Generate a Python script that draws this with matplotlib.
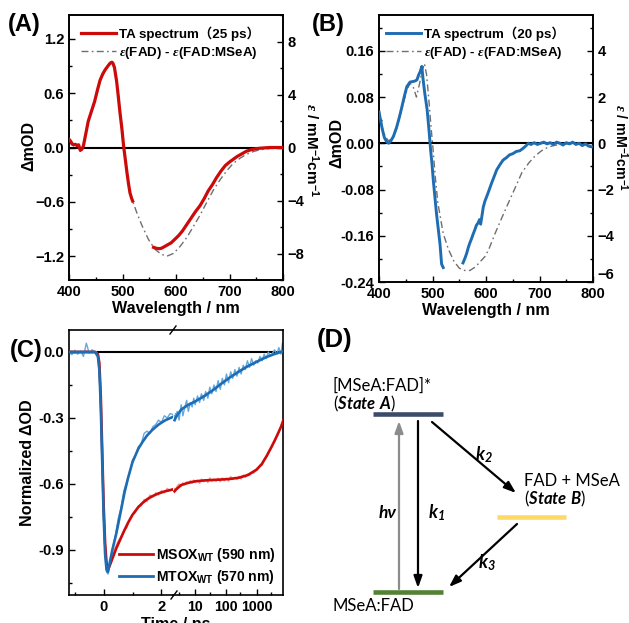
import numpy as np
import matplotlib
matplotlib.use("Agg")
import matplotlib.pyplot as plt
from matplotlib.ticker import MultipleLocator, FixedLocator, NullFormatter, FixedFormatter
from matplotlib.lines import Line2D

# ---------------- data ----------------
# Panel A  (TA spectrum 25 ps, left axis; epsilon difference, right axis)
A_wl_ta1 = [400, 403, 406, 409, 412, 415, 418, 421, 424, 427, 431, 436, 442, 448, 453, 458, 463, 468, 473, 477,
            480, 482, 485, 489, 492, 495, 499, 502, 505, 508, 511, 514, 517, 519]
A_ta1 = [0.09, 0.07, 0.04, 0.03, 0.035, 0.02, 0.03, -0.03, -0.02, 0.02, 0.14, 0.29, 0.40, 0.51, 0.63, 0.74, 0.81, 0.86, 0.90, 0.93,
         0.94, 0.93, 0.88, 0.73, 0.57, 0.40, 0.20, 0.02, -0.12, -0.26, -0.39, -0.50, -0.56, -0.59]
A_wl_ta2 = [558, 563, 568, 573, 579, 585, 591, 598, 605, 612, 620, 628, 636, 645, 653, 660, 668, 676, 684, 692,
            700, 707, 714, 720, 726, 732, 740, 748, 757, 766, 775, 785, 795, 800]
A_ta2 = [-1.10, -1.11, -1.115, -1.11, -1.09, -1.07, -1.05, -1.01, -0.97, -0.92, -0.85, -0.78, -0.71, -0.64, -0.56, -0.48, -0.41, -0.33, -0.26, -0.20,
         -0.16, -0.13, -0.10, -0.08, -0.06, -0.04, -0.025, -0.015, -0.008, -0.004, 0.0, 0.0, 0.0, 0.0]
A_wl_eps = [400, 405, 410, 416, 421, 426, 431, 436, 442, 449, 458, 468, 477, 481, 485, 489, 495, 502, 508, 514,
            519, 527, 536, 548, 560, 572, 583, 595, 607, 620, 632, 645, 658, 670, 683, 695, 707, 720, 732, 745,
            757, 770, 785, 800]
A_eps = [0.45, 0.2, 0.1, 0.05, -0.3, -0.05, 1.0, 1.95, 2.75, 3.5, 5.0, 5.85, 6.35, 6.45, 6.1, 4.95, 2.7, 0.05, -1.8, -3.45,
         -4.05, -4.95, -5.85, -6.9, -7.65, -8.05, -8.2, -8.0, -7.5, -6.8, -6.0, -5.1, -4.1, -3.2, -2.4, -1.75, -1.2, -0.8, -0.5, -0.3,
         -0.17, -0.1, -0.04, 0.0]

# Panel B  (TA spectrum 20 ps)
B_wl_ta1 = [400, 403, 406, 410, 414, 418, 422, 427, 433, 438, 442, 447, 452, 458, 464, 468, 471, 474, 477, 480,
            482.5, 485.5, 490, 494, 496.5, 499, 501.5, 504.5, 507.5, 511, 514, 517, 520]
B_ta1 = [0.054, 0.04, 0.025, 0.01, 0.003, 0.0, 0.004, 0.012, 0.028, 0.045, 0.06, 0.08, 0.098, 0.106, 0.107, 0.108, 0.11, 0.118, 0.124, 0.133,
         0.11, 0.087, 0.058, 0.017, -0.012, -0.035, -0.064, -0.093, -0.122, -0.15, -0.174, -0.209, -0.215]
B_wl_ta2 = [557, 561, 564, 567, 570, 573, 576, 579, 582, 585, 588, 590, 592, 595, 598, 601, 605, 610, 615, 620,
            626, 632, 638, 644, 650, 657, 663, 669, 675, 679, 684, 690, 696, 702, 708, 714, 720, 726, 732, 738,
            744, 750, 756, 762, 768, 774, 780, 786, 792, 797]
B_ta2 = [-0.207, -0.198, -0.19, -0.18, -0.172, -0.165, -0.157, -0.15, -0.142, -0.138, -0.132, -0.14, -0.128, -0.11, -0.1, -0.093, -0.083, -0.07, -0.058, -0.046,
         -0.037, -0.029, -0.025, -0.02, -0.018, -0.014, -0.013, -0.009, -0.004, 0.0, -0.002, 0.001, -0.002, 0.0, 0.002, -0.001, 0.001, -0.002, 0.002, 0.0,
         -0.003, 0.001, -0.001, 0.002, -0.002, 0.0, -0.004, -0.001, -0.005, -0.006]
B_wl_eps = [400, 405, 411, 417, 424, 433, 442, 452, 458, 464, 470, 476, 480, 485, 489, 493, 497, 501, 505, 510,
            520, 530, 540, 550, 560, 570, 580, 590, 598, 605, 617, 630, 642, 655, 667, 680, 692, 704, 716, 728,
            741, 760, 780, 800]
B_eps = [1.5, 0.77, 0.33, 0.12, 0.16, 0.63, 1.43, 2.3, 2.6, 2.44, 2.0, 2.6, 3.1, 3.45, 2.95, 1.93, 0.77, -0.25, -1.41, -2.58,
         -3.9, -4.6, -5.1, -5.4, -5.5, -5.5, -5.35, -5.1, -4.9, -4.6, -3.9, -3.2, -2.57, -1.9, -1.27, -0.85, -0.54, -0.32, -0.17, -0.09,
         -0.04, -0.01, 0.0, 0.0]

# Panel C  (kinetics; time in ps)
C_t_fit = [-1.2, -0.6, -0.3, -0.2, -0.15, -0.1, -0.05, 0.0, 0.05, 0.1,
           0.15, 0.2, 0.3, 0.43, 0.6, 0.72, 0.85, 1.0, 1.2, 1.34,
           1.5, 1.68, 1.9, 2.14, 2.4, 3.5, 6, 10, 20, 37,
           70, 138, 260, 515, 1000, 1480, 2200, 3260, 4500, 6300, 7500]
C_red_fit = [0, 0, 0, -0.01, -0.05, -0.2, -0.45, -0.7, -0.87, -0.96,
             -0.99, -0.975, -0.94, -0.895, -0.845, -0.81, -0.775, -0.74, -0.705, -0.687,
             -0.67, -0.656, -0.643, -0.633, -0.625, -0.605, -0.595, -0.588, -0.584, -0.582,
             -0.58, -0.577, -0.572, -0.56, -0.535, -0.51, -0.47, -0.425, -0.385, -0.34, -0.31]
C_blue_fit = [0, 0, 0, -0.02, -0.08, -0.25, -0.5, -0.75, -0.92, -0.99,
              -1.0, -0.965, -0.9, -0.83, -0.72, -0.64, -0.57, -0.5, -0.44, -0.41,
              -0.38, -0.355, -0.33, -0.31, -0.295, -0.262, -0.24, -0.225, -0.2, -0.175,
              -0.145, -0.115, -0.09, -0.065, -0.045, -0.033, -0.022, -0.013, -0.006, 0.0, 0.003]
C_t_raw = [-1.2, -1.1, -1.0, -0.9, -0.8, -0.7, -0.6, -0.5, -0.4, -0.3,
           -0.25, -0.2, -0.15, -0.1, -0.05, 0.0, 0.05, 0.1, 0.15, 0.2,
           0.3, 0.4, 0.5, 0.6, 0.7, 0.8, 0.9, 1.0, 1.1, 1.2,
           1.3, 1.4, 1.5, 1.6, 1.7, 1.8, 1.9, 2.0, 2.1, 2.2, 2.3, 2.4,
           2.6, 3.0, 3.5, 4.0, 4.6, 5.3, 6.0, 7.0, 8.0, 9.0,
           10, 12, 14, 16, 19, 22, 26, 30, 35, 41,
           48, 56, 66, 77, 90, 105, 123, 144, 168, 197,
           230, 270, 315, 370, 430, 505, 590, 690, 810, 950,
           1100, 1300, 1520, 1780, 2080, 2430, 2850, 3330, 3900, 4560,
           5340, 6250, 7000]
C_blue_raw = [0.0, -0.012, 0.008, -0.01, 0.005, -0.02, 0.04, -0.005, 0.01, 0.0,
              0.0, -0.03, -0.1, -0.27, -0.52, -0.77, -0.93, -1.0, -1.01, -0.97,
              -0.9, -0.84, -0.76, -0.71, -0.63, -0.59, -0.55, -0.49, -0.47, -0.43,
              -0.42, -0.37, -0.36, -0.37, -0.34, -0.33, -0.31, -0.32, -0.29, -0.3, -0.28, -0.285,
              -0.27, -0.31, -0.24, -0.29, -0.25, -0.22, -0.27, -0.23, -0.25, -0.21,
              -0.24, -0.2, -0.23, -0.19, -0.22, -0.18, -0.21, -0.16, -0.19, -0.15,
              -0.18, -0.13, -0.17, -0.12, -0.15, -0.1, -0.14, -0.09, -0.12, -0.08,
              -0.11, -0.07, -0.1, -0.06, -0.08, -0.04, -0.07, -0.03, -0.06, -0.04,
              -0.05, -0.02, -0.04, -0.01, -0.03, 0.0, -0.02, -0.005, 0.01, -0.01,
              0.02, -0.01, 0.04]
C_red_raw = [0.0, 0.005, -0.005, 0.003, 0.0, -0.004, 0.006, 0.0, -0.003, 0.0,
             0.0, -0.01, -0.06, -0.2, -0.46, -0.7, -0.86, -0.95, -0.98, -0.97,
             -0.93, -0.89, -0.86, -0.84, -0.81, -0.8, -0.76, -0.74, -0.73, -0.7,
             -0.7, -0.67, -0.68, -0.65, -0.66, -0.64, -0.65, -0.63, -0.64, -0.62, -0.63, -0.62,
             -0.61, -0.6, -0.612, -0.595, -0.603, -0.59, -0.598, -0.585, -0.597, -0.582,
             -0.594, -0.584, -0.598, -0.578, -0.59, -0.58, -0.594, -0.572, -0.588, -0.578,
             -0.588, -0.574, -0.59, -0.572, -0.586, -0.574, -0.588, -0.566, -0.58, -0.57,
             -0.58, -0.565, -0.578, -0.56, -0.57, -0.555, -0.562, -0.548, -0.552, -0.54,
             -0.535, -0.515, -0.515, -0.49, -0.48, -0.455, -0.445, -0.42, -0.41, -0.38,
             -0.365, -0.335, -0.32]
C_xticks_lin = [0, 2]
C_xticks_log = [10, 100, 1000]
C_xticklabels_log = ["10", "100", "1000"]

# ---------------- style ----------------
W, H = 629, 623
plt.rcParams['font.family'] = ['Liberation Sans', 'Noto Sans CJK SC', 'DejaVu Sans']
plt.rcParams['font.weight'] = 'bold'
plt.rcParams['mathtext.fontset'] = 'custom'
plt.rcParams['mathtext.rm'] = 'Liberation Sans:bold'
plt.rcParams['mathtext.bf'] = 'Liberation Sans:bold'
plt.rcParams['mathtext.it'] = 'Liberation Serif:italic'
plt.rcParams['mathtext.sf'] = 'Lato:italic:bold'

RED = '#cc0a0a'
BLUE = '#1e6db3'
RED_L = '#f29a9a'
BLUE_L = '#62a8e0'
GRAY = '#6f6f6f'
DASH = (5, 2.4, 1.2, 2.4)
FS_TICK = 10.6
FS_LAB = 11.6
FS_LEG = 9.6
FS_PANEL = 17

fig = plt.figure(figsize=(W / 100, H / 100), dpi=100)


def rect(x0, y0, x1, y1):
    return [x0 / W, 1 - y1 / H, (x1 - x0) / W, (y1 - y0) / H]


def P(x, y):
    return (x / W, 1 - y / H)


def style(ax):
    ax.tick_params(direction='in', which='both', width=1.0, labelsize=FS_TICK, pad=3.5)
    ax.tick_params(which='major', length=4)
    ax.tick_params(which='minor', length=2.5)
    for s in ax.spines.values():
        s.set_linewidth(1.2)


# ---------------- Panel A ----------------
axA = fig.add_axes(rect(69, 15, 283, 280))
axA2 = axA.twinx()
axA.set_zorder(axA2.get_zorder() + 1)
axA.patch.set_visible(False)
axA.set_xlim(400, 800)
axA.set_ylim(-1.46, 1.46)
axA2.set_ylim(-10, 10)
axA.axhline(0, color='k', lw=1.5, zorder=1)
axA2.plot(A_wl_eps, A_eps, color=GRAY, lw=1.0, dashes=DASH)
axA.plot(A_wl_ta1, A_ta1, color=RED, lw=2.3, zorder=3)
axA.plot(A_wl_ta2, A_ta2, color=RED, lw=2.3, zorder=3)
axA.xaxis.set_major_locator(MultipleLocator(100))
axA.xaxis.set_minor_locator(MultipleLocator(50))
axA.yaxis.set_major_locator(MultipleLocator(0.6))
axA.yaxis.set_minor_locator(MultipleLocator(0.3))
axA2.yaxis.set_major_locator(MultipleLocator(4))
axA2.yaxis.set_minor_locator(MultipleLocator(2))
style(axA)
style(axA2)
axA.legend([Line2D([], [], color=RED, lw=2.3), Line2D([], [], color=GRAY, lw=1.0, dashes=DASH)],
           ['TA spectrum（25 ps）', r'$\varepsilon$(FAD) - $\varepsilon$(FAD:MSeA)'],
           loc='upper left', bbox_to_anchor=(0.054, 0.958), frameon=False, fontsize=FS_LEG,
           handlelength=2.65, handletextpad=0.2, labelspacing=0.3, borderpad=0, borderaxespad=0)

# ---------------- Panel B ----------------
axB = fig.add_axes(rect(379, 15, 593, 282))
axB2 = axB.twinx()
axB.set_zorder(axB2.get_zorder() + 1)
axB.patch.set_visible(False)
axB.set_xlim(400, 800)
axB.set_ylim(-0.24, 0.222)
axB2.set_ylim(-6, 5.55)
axB.axhline(0, color='k', lw=1.5, zorder=1)
axB2.plot(B_wl_eps, B_eps, color=GRAY, lw=1.0, dashes=DASH)
axB.plot(B_wl_ta1, B_ta1, color=BLUE, lw=2.1, zorder=3)
axB.plot(B_wl_ta2, B_ta2, color=BLUE, lw=2.1, zorder=3)
axB.xaxis.set_major_locator(MultipleLocator(100))
axB.xaxis.set_minor_locator(MultipleLocator(50))
axB.yaxis.set_major_locator(MultipleLocator(0.08))
axB.yaxis.set_minor_locator(MultipleLocator(0.04))
axB.yaxis.set_major_formatter(matplotlib.ticker.FormatStrFormatter('%.2f'))
axB2.yaxis.set_major_locator(FixedLocator([-6, -4, -2, 0, 2, 4]))
axB2.yaxis.set_minor_locator(MultipleLocator(1))
style(axB)
style(axB2)
# the bottom right-axis label sits slightly raised, clear of the "800" tick label
axB2.yaxis.get_major_ticks()[0].label2.set_verticalalignment('bottom')
axB.legend([Line2D([], [], color=BLUE, lw=2.1), Line2D([], [], color=GRAY, lw=1.0, dashes=DASH)],
           ['TA spectrum（20 ps）', r'$\varepsilon$(FAD) - $\varepsilon$(FAD:MSeA)'],
           loc='upper left', bbox_to_anchor=(0.033, 0.958), frameon=False, fontsize=FS_LEG,
           handlelength=2.65, handletextpad=0.2, labelspacing=0.3, borderpad=0, borderaxespad=0)

# ---------------- Panel C (broken time axis) ----------------
t_raw = np.array(C_t_raw)
t_fit = np.array(C_t_fit)
axCL = fig.add_axes(rect(69, 330, 173, 595))
axCR = fig.add_axes(rect(173, 330, 283, 595))
for ax in (axCL, axCR):
    ax.set_ylim(-1.105, 0.1)
    ax.axhline(0, color='k', lw=1.5, zorder=1)
axCL.set_xlim(-1.2, 2.4)
axCR.set_xscale('log')
axCR.set_xlim(1.9, 7300)
axCL.plot(t_raw, C_red_raw, color=RED_L, lw=1.0, zorder=2)
axCL.plot(t_raw, C_blue_raw, color=BLUE_L, lw=1.0, zorder=2)
axCL.plot(t_fit, C_red_fit, color=RED, lw=1.9, zorder=3)
axCL.plot(t_fit, C_blue_fit, color=BLUE, lw=1.9, zorder=3)
mr = t_raw > 2.0
mf = t_fit > 2.0
axCR.plot(t_raw[mr], np.array(C_red_raw)[mr], color=RED_L, lw=1.0, zorder=2)
axCR.plot(t_raw[mr], np.array(C_blue_raw)[mr], color=BLUE_L, lw=1.0, zorder=2)
axCR.plot(t_fit[mf], np.array(C_red_fit)[mf], color=RED, lw=1.9, zorder=3)
axCR.plot(t_fit[mf], np.array(C_blue_fit)[mf], color=BLUE, lw=1.9, zorder=3)
axCL.spines['right'].set_visible(False)
axCR.spines['left'].set_visible(False)
style(axCL)
style(axCR)
axCL.xaxis.set_major_locator(FixedLocator(C_xticks_lin))
axCL.xaxis.set_minor_locator(FixedLocator([-1, 1]))
axCL.yaxis.set_major_locator(MultipleLocator(0.3))
axCL.yaxis.set_minor_locator(MultipleLocator(0.15))
axCL.yaxis.set_major_formatter(matplotlib.ticker.FormatStrFormatter('%.1f'))
axCR.xaxis.set_major_locator(FixedLocator(C_xticks_log))
axCR.xaxis.set_major_formatter(FixedFormatter(C_xticklabels_log))
axCR.xaxis.set_minor_locator(FixedLocator([3, 30, 300, 3000]))
axCR.xaxis.set_minor_formatter(NullFormatter())
axCR.tick_params(left=False, labelleft=False, which='both')
axCR.tick_params(axis='x', which='major', labelsize=10.2)
fig.legend([Line2D([], [], color=RED, lw=2.0), Line2D([], [], color=BLUE, lw=2.0)],
           [r'MSOX$_{\mathrm{WT}}$ (590 nm)', r'MTOX$_{\mathrm{WT}}$ (570 nm)'],
           loc='upper left', bbox_to_anchor=P(119, 546), frameon=False, fontsize=10.1,
           handlelength=2.4, handletextpad=0.25, labelspacing=0.3, borderpad=0, borderaxespad=0)

# ---------------- labels ----------------
fig.text(*P(29, 146), 'ΔmOD', rotation=90, ha='center', va='center', fontsize=FS_LAB)
fig.text(*P(312, 150), r'$\varepsilon$ / mM$^{-1}$cm$^{-1}$', rotation=-90, ha='center', va='center', fontsize=11)
fig.text(*P(176, 308), 'Wavelength / nm', ha='center', va='center', fontsize=FS_LAB)
fig.text(*P(337, 143), 'ΔmOD', rotation=90, ha='center', va='center', fontsize=FS_LAB)
fig.text(*P(621, 148), r'$\varepsilon$ / mM$^{-1}$cm$^{-1}$', rotation=-90, ha='center', va='center', fontsize=10.2)
fig.text(*P(486, 310), 'Wavelength / nm', ha='center', va='center', fontsize=FS_LAB)
fig.text(*P(28, 463), 'Normalized ΔOD', rotation=90, ha='center', va='center', fontsize=FS_LAB)
fig.text(*P(176, 617), 'Time / ps', ha='center', va='top', fontsize=FS_LAB)

fig.text(*P(24, 24), '(A)', ha='center', va='center', fontsize=FS_PANEL)
fig.text(*P(328, 24), '(B)', ha='center', va='center', fontsize=FS_PANEL)
fig.text(*P(26, 350), '(C)', ha='center', va='center', fontsize=FS_PANEL)
fig.text(*P(335, 340), '(D)', ha='center', va='center', fontsize=18.5)

# ---------------- Panel D (scheme) + break marks ----------------
axD = fig.add_axes([0, 0, 1, 1])
axD.set_xlim(0, W)
axD.set_ylim(H, 0)
axD.axis('off')

for xb, yb in ((173, 330), (174, 595)):
    axD.plot([xb - 3, xb + 3], [yb + 4, yb - 4], color='k', lw=1.0)

DF = ['Lato', 'DejaVu Sans']
FS_D = 12
axD.text(333, 386, '[MSeA:FAD]*', fontsize=FS_D, fontweight='normal', family=DF, ha='left', va='center')
axD.text(333, 404, r'($\mathsf{State\ A}$)', fontsize=FS_D, fontweight='normal', family=DF, ha='left', va='center')
axD.text(524, 481, 'FAD + MSeA', fontsize=FS_D, fontweight='normal', family=DF, ha='left', va='center')
axD.text(524, 499, r'($\mathsf{State\ B}$)', fontsize=FS_D, fontweight='normal', family=DF, ha='left', va='center')
axD.text(333, 606, 'MSeA:FAD', fontsize=FS_D, fontweight='normal', family=DF, ha='left', va='center')

axD.plot([373, 443], [414, 414], color='#3d4b6b', lw=3.3, solid_capstyle='butt')
axD.plot([373, 443], [592, 592], color='#548235', lw=3.3, solid_capstyle='butt')
axD.plot([497, 566], [517, 517], color='#ffd966', lw=3.3, solid_capstyle='butt')

arrow_k = dict(arrowstyle='-|>,head_length=0.7,head_width=0.25', lw=1.6, color='k', shrinkA=0, shrinkB=0)
arrow_g = dict(arrowstyle='-|>,head_length=0.7,head_width=0.25', lw=1.6, color='#8c8c8c', shrinkA=0, shrinkB=0)
axD.annotate('', xy=(399, 421), xytext=(399, 589), arrowprops=arrow_g)
axD.annotate('', xy=(418, 588), xytext=(418, 421), arrowprops=arrow_k)
axD.annotate('', xy=(516, 493), xytext=(432, 422), arrowprops=arrow_k)
axD.annotate('', xy=(449, 587), xytext=(517, 524), arrowprops=arrow_k)

axD.text(388, 513, 'hν', fontsize=12.5, fontweight='bold', fontstyle='italic', family=DF, ha='center', va='center')
axD.text(437, 513, r'$\mathsf{k}_{\mathsf{1}}$', fontsize=13, family=DF, ha='center', va='center')
axD.text(484, 455, r'$\mathsf{k}_{\mathsf{2}}$', fontsize=13, family=DF, ha='center', va='center')
axD.text(487, 563, r'$\mathsf{k}_{\mathsf{3}}$', fontsize=13, family=DF, ha='center', va='center')

fig.savefig('out.png', dpi=100)
